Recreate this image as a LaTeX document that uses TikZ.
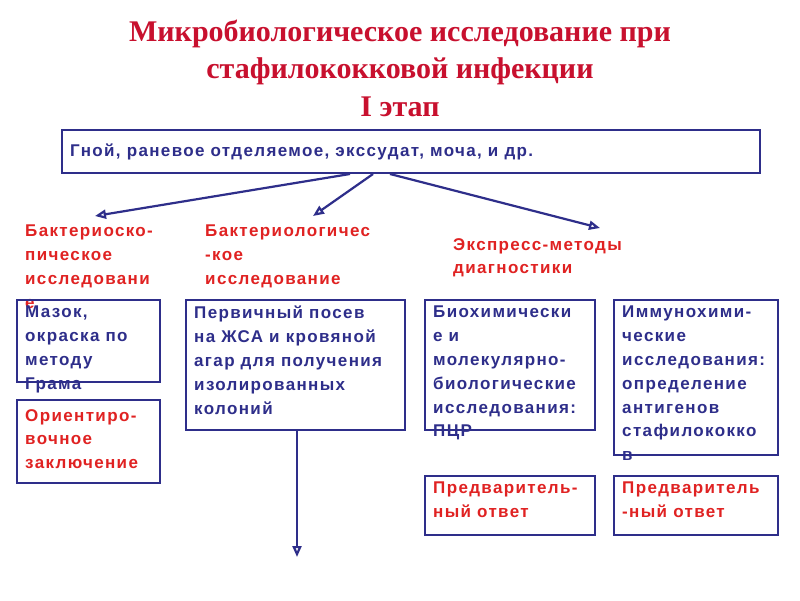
\documentclass[tikz,border=0pt]{standalone}
\usepackage{fontspec}
\setmainfont{Liberation Sans}[LetterSpace=8]
\newfontfamily\titlefont{Liberation Serif}
\usetikzlibrary{arrows.meta}
\definecolor{bl}{HTML}{2E2E8A}
\definecolor{rd}{HTML}{E02222}
\definecolor{tr}{HTML}{C8102E}
\tikzset{
  boxr/.style={draw=bl,line width=2.2pt},
  txt/.style={anchor=north west,align=left,inner sep=0pt,font=\fontsize{17}{23.8}\selectfont\bfseries},
  bt/.style={txt,text=bl},
  rt/.style={txt,text=rd},
  arr/.style={draw=bl,line width=2.2pt,-{Triangle[open,length=11pt,width=9pt]}}
}
\begin{document}
\begin{tikzpicture}[x=1pt,y=-1pt]
\fill[white] (0,0) rectangle (800,600);
\useasboundingbox (0,0) rectangle (800,600);
\node[text=tr,font=\titlefont\fontsize{30}{37.5}\selectfont\bfseries,align=center] (title) at (400,68)
 {Микробиологическое исследование при\\стафилококковой инфекции\\I этап};
\draw[boxr] (62,130) rectangle (760,173);
\node[bt,anchor=west] (top) at (70,152) {Гной, раневое отделяемое, экссудат, моча, и др.};
\coordinate (s1) at (350,174);
\coordinate (s2) at (373,174);
\coordinate (s3) at (390,174);
\coordinate (e1) at (95,216);
\coordinate (e2) at (313,216);
\coordinate (e3) at (600,228);
\draw[arr] (s1) -- (e1);
\draw[arr] (s2) -- (e2);
\draw[arr] (s3) -- (e3);
\node[rt] (l1) at (25,225) {Бактериоско-\\пическое\\исследовани\\е};
\node[rt] (l2) at (205,225) {Бактериологичес\\-кое\\исследование};
\node[rt] (l3) at (453,238) {Экспресс-методы\\диагностики};
\draw[boxr] (17,300) rectangle (160,382);
\node[bt] (b1) at (25,306) {Мазок,\\окраска по\\методу\\Грама};
\draw[boxr] (17,400) rectangle (160,483);
\node[rt] (b2) at (25,409) {Ориентиро-\\вочное\\заключение};
\draw[boxr] (186,300) rectangle (405,430);
\node[bt] (b3) at (194,306) {Первичный посев\\на ЖСА и кровяной\\агар для получения\\изолированных\\колоний};
\coordinate (d1) at (297,430);
\coordinate (d2) at (297,557);
\draw[arr] (d1) -- (d2);
\draw[boxr] (425,300) rectangle (595,430);
\node[bt] (b4) at (433,306) {Биохимически\\е и\\молекулярно-\\биологические\\исследования:\\ПЦР};
\draw[boxr] (614,300) rectangle (778,455);
\node[bt] (b5) at (622,306) {Иммунохими-\\ческие\\исследования:\\определение\\антигенов\\стафилококко\\в};
\draw[boxr] (425,476) rectangle (595,535);
\node[rt] (b6) at (433,482) {Предваритель-\\ный ответ};
\draw[boxr] (614,476) rectangle (778,535);
\node[rt] (b7) at (622,482) {Предваритель\\-ный ответ};
\end{tikzpicture}
\end{document}
